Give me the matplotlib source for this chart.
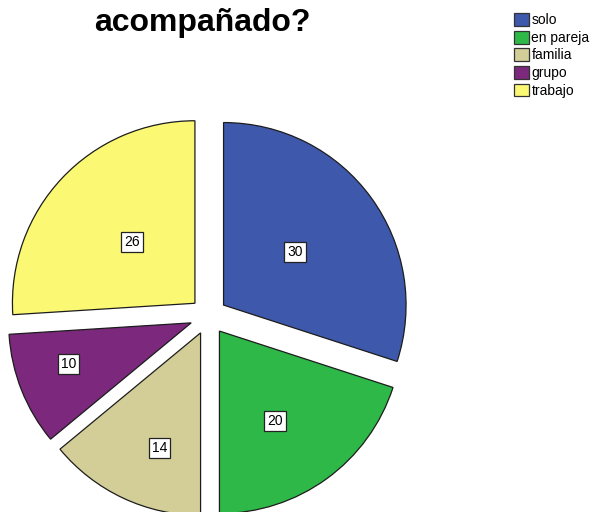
import numpy as np
import matplotlib
matplotlib.use("Agg")
import matplotlib.pyplot as plt
from matplotlib.patches import Patch

plt.rcParams["font.family"] = ["Liberation Sans", "DejaVu Sans"]

categories = ["solo", "en pareja", "familia", "grupo", "trabajo"]
counts = [30, 20, 14, 10, 26]
colors = ["#3E58AC", "#2EB848", "#D3CE97", "#7C287D", "#FBF873"]
title = "acompañado?"

# placement of the value boxes: radial fraction and angular nudge (degrees)
label_frac = [0.49, 0.58, 0.67, 0.71, 0.48]
label_shift = [0.7, -4.3, 5.6, -3.1, -1.0]

W, H = 593, 512
fig = plt.figure(figsize=(W / 100, H / 100), dpi=100)
ax = fig.add_axes([0, 0, 1, 1])

cx, cy, rad = 208.5, 316, 182.5  # pie centre and radius in pixels
explode = [0.102] * len(counts)

wedges, _ = ax.pie(
    counts,
    colors=colors,
    startangle=90,
    counterclock=False,
    explode=explode,
    radius=1.0,
    wedgeprops=dict(edgecolor="#1c1c1c", linewidth=0.9),
)

for w, val, frac, shift, ex in zip(wedges, counts, label_frac, label_shift, explode):
    mid = np.deg2rad((w.theta1 + w.theta2) / 2)
    lab = mid + np.deg2rad(shift)
    x = ex * np.cos(mid) + frac * np.cos(lab)
    y = ex * np.sin(mid) + frac * np.sin(lab)
    ax.text(x, y, str(val), ha="center", va="center", fontsize=10,
            bbox=dict(boxstyle="square,pad=0.22", facecolor="white",
                      edgecolor="#222222", linewidth=0.9))

ax.set_aspect("auto")
ax.set_xlim(-cx / rad, (W - cx) / rad)
ax.set_ylim(-(H - cy) / rad, cy / rad)
ax.axis("off")

fig.text(202 / W, 1 - 31.5 / H, title, ha="center", va="baseline",
         fontsize=23, fontweight="bold")

handles = [Patch(facecolor=c, edgecolor="#333333", linewidth=0.9) for c in colors]
leg = fig.legend(handles, categories, loc="upper left",
                 bbox_to_anchor=(514 / W, 1 - 13 / H), frameon=False,
                 fontsize=10, handlelength=1.05, handleheight=1.05,
                 handletextpad=0.2, labelspacing=0.25, borderpad=0,
                 borderaxespad=0)

fig.savefig("out.png", dpi=100)
